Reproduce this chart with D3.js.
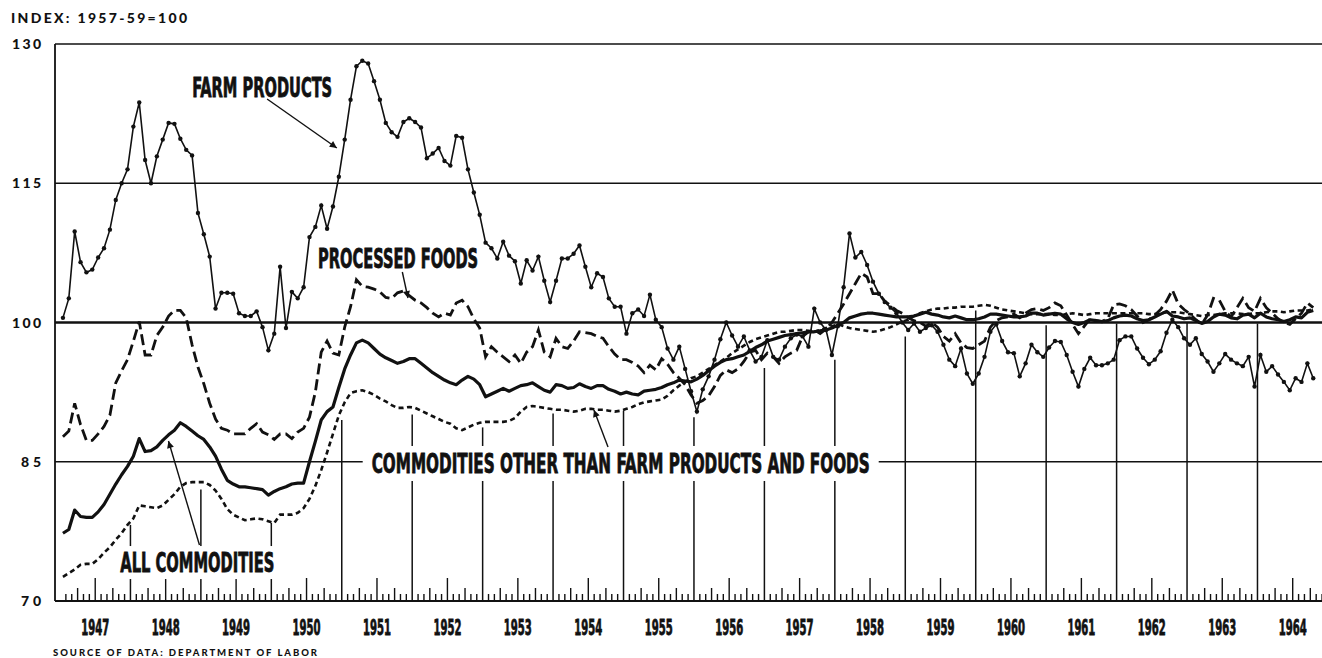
<!DOCTYPE html>
<html>
<head>
<meta charset="utf-8">
<script src="https://cdn.jsdelivr.net/npm/d3@7"></script>
<style>
  body { margin: 0; background: #fff; }
  svg { display: block; }
  .cond { font-family: "Liberation Sans Narrow", "DejaVu Sans Condensed", sans-serif; font-weight: bold; fill: #111; stroke: #111; stroke-width: 0.8; }
  .geo { font-family: Lato, "DejaVu Sans", sans-serif; font-weight: 900; fill: #111; }
</style>
</head>
<body>
<svg id="chart" width="1322" height="658"></svg>
<script>
// monthly index numbers, 1957-59=100, Jan 1947 - Oct 1964
const startYear = 1947;
const yTicks = [70, 85, 100, 115, 130];
const yearLabels = d3.range(1947, 1965);

const farmProducts = [
  100.5, 102.6, 109.8, 106.5, 105.4, 105.7, 107.0, 108.0, 110.0, 113.2, 115.0, 116.5,
  121.1, 123.7, 117.5, 115.0, 117.9, 119.7, 121.5, 121.4, 119.8, 118.6, 118.0, 111.8,
  109.5, 107.1, 101.5, 103.2, 103.2, 103.1, 101.0, 100.7, 100.7, 101.2, 99.5, 97.0,
  98.8, 106.0, 99.4, 103.3, 102.6, 103.8, 109.2, 110.3, 112.6, 110.1, 112.5, 115.7,
  119.7, 124.0, 127.6, 128.2, 127.9, 126.0, 124.0, 121.5, 120.5, 120.0, 121.6, 122.0,
  121.6, 121.0, 117.7, 118.2, 118.8, 117.4, 116.9, 120.1, 119.9, 116.5, 114.0, 111.6,
  108.6, 108.0, 106.9, 108.7, 107.2, 106.6, 104.2, 106.7, 105.6, 107.1, 104.5, 102.2,
  104.5, 106.9, 106.9, 107.4, 108.3, 106.0, 103.8, 105.3, 104.9, 102.6, 101.7, 101.7,
  98.8, 101.0, 101.4, 100.7, 103.0, 100.3, 99.5, 97.2, 96.0, 97.4, 95.0, 92.6,
  90.4, 92.8, 94.2, 96.0, 98.2, 100.0, 98.6, 97.4, 98.5, 97.0, 95.8, 96.3,
  98.1, 96.3, 96.0, 97.4, 98.3, 98.7, 98.5, 97.4, 101.5, 100.0, 99.2, 96.5,
  99.6, 103.8, 109.6, 107.0, 107.6, 106.2, 104.4, 103.1, 102.2, 101.6, 101.0, 100.0,
  99.2, 99.9, 99.0, 99.4, 99.7, 99.0, 97.6, 96.0, 95.3, 97.2, 94.5, 93.4,
  94.5, 96.3, 99.0, 99.8, 98.0, 96.8, 96.7, 94.2, 95.6, 97.6, 96.8, 96.3,
  97.3, 98.0, 97.9, 96.5, 94.7, 93.1, 95.0, 96.2, 95.4, 95.4, 95.6, 96.0,
  98.1, 98.5, 98.5, 97.2, 96.2, 95.5, 96.0, 96.9, 98.9, 100.3, 99.5, 98.3,
  97.6, 98.3, 96.6, 95.8, 94.7, 95.6, 96.6, 96.0, 95.6, 95.3, 96.3, 93.1,
  96.5, 94.7, 95.3, 94.4, 93.6, 92.7, 94.0, 93.6, 95.6, 94.0
];

const processedFoods = [
  87.7, 88.3, 91.3, 89.0, 87.3, 87.3, 88.0, 88.8, 90.0, 93.5, 94.8, 96.0,
  98.0, 100.1, 96.5, 96.5, 98.6, 99.5, 100.7, 101.3, 101.3, 100.5, 97.6, 95.2,
  93.4, 91.3, 89.6, 88.6, 88.4, 88.0, 88.0, 88.0, 88.6, 89.1, 88.2, 87.9,
  87.4, 88.0, 88.0, 87.5, 88.2, 88.6, 89.8, 92.5, 96.8, 98.0, 96.7, 96.5,
  99.5, 101.7, 104.6, 103.9, 103.8, 103.6, 103.3, 102.7, 102.6, 103.2, 103.4, 102.9,
  102.4, 102.1, 101.6, 101.0, 100.6, 101.0, 100.8, 102.1, 102.4, 101.7, 100.4, 99.4,
  96.3, 97.4, 96.8, 96.3, 95.8, 96.5, 95.6, 96.8, 97.4, 99.2, 96.8, 96.3,
  98.3, 97.4, 97.2, 98.0, 99.0, 98.9, 98.8, 98.5, 98.3, 97.4, 96.6, 96.0,
  96.0, 95.7, 95.3, 94.6, 95.4, 94.9, 96.1, 95.5, 94.6, 94.0, 93.3, 92.2,
  91.3, 91.6, 92.1, 93.1, 94.3, 94.9, 94.6, 95.0, 95.8, 96.8, 97.0, 96.0,
  96.7, 96.3, 95.6, 96.3, 96.7, 97.0, 98.5, 99.0, 99.2, 98.8, 99.3, 100.0,
  101.0, 102.0, 103.1, 104.2, 105.3, 104.9, 103.1, 103.1, 102.3, 101.8, 101.3, 101.0,
  100.5, 100.2, 100.0, 99.6, 100.0, 99.5, 98.5, 98.0, 98.8, 97.8, 97.3, 97.2,
  97.6, 98.0, 99.5, 100.2, 100.5, 100.6, 100.9, 100.5, 101.0, 101.4, 101.5, 101.3,
  101.6, 102.1, 101.8, 100.8, 99.8, 98.8, 99.6, 100.4, 100.2, 100.1, 100.4, 101.9,
  102.0, 101.8, 101.4, 100.7, 100.0, 100.3, 100.8, 101.4, 102.3, 103.5, 102.0, 101.4,
  100.9, 100.3, 99.8, 100.8, 102.6, 102.4, 101.2, 100.6, 101.6, 102.6, 101.6, 101.2,
  102.6, 101.6, 101.0, 100.4, 100.0, 99.8, 100.4, 101.0, 102.1, 101.6
];

const allCommodities = [
  77.3, 77.7, 79.8, 79.1, 79.0, 79.0, 79.6, 80.4, 81.5, 82.6, 83.6, 84.5,
  85.6, 87.5, 86.1, 86.2, 86.6, 87.3, 87.9, 88.4, 89.2, 88.8, 88.3, 87.8,
  87.4, 86.6, 85.6, 84.2, 83.0, 82.6, 82.3, 82.3, 82.2, 82.1, 82.0, 81.4,
  81.8, 82.1, 82.3, 82.6, 82.7, 82.7, 85.0, 87.2, 89.5, 90.4, 90.9, 93.0,
  95.0, 96.5, 97.8, 98.1, 97.8, 97.2, 96.6, 96.2, 95.9, 95.6, 95.8, 96.1,
  96.1, 95.6, 95.1, 94.6, 94.2, 93.8, 93.5, 93.3, 93.8, 94.2, 93.9, 93.3,
  92.0, 92.3, 92.6, 92.9, 92.6, 92.9, 93.2, 93.3, 93.5, 93.1, 92.7, 92.5,
  93.3, 93.2, 92.9, 93.0, 93.4, 93.1, 92.9, 93.2, 93.2, 92.8, 92.6, 92.3,
  92.5, 92.3, 92.2, 92.6, 92.7, 92.8, 93.0, 93.3, 93.5, 93.8, 93.7, 93.6,
  93.9, 94.3, 94.8, 95.3, 95.7, 96.0, 96.1, 96.3, 96.5, 96.9, 97.3, 97.6,
  98.0, 98.2, 98.4, 98.6, 98.7, 98.8, 98.9, 99.0, 99.0, 99.1, 99.2, 99.4,
  99.7, 100.0, 100.5, 100.7, 100.9, 101.0, 101.0, 100.9, 100.8, 100.7, 100.6, 100.6,
  100.6, 100.7, 100.9, 101.1, 100.9, 100.8, 100.6, 100.5, 100.7, 100.5, 100.3, 100.3,
  100.4, 100.6, 100.9, 100.9, 100.8, 100.7, 100.6, 100.6, 100.7, 101.0, 101.0, 100.8,
  100.9, 101.0, 100.9, 100.4, 100.0, 99.8, 100.0, 100.3, 100.2, 100.1, 100.2, 100.5,
  100.7, 100.8, 100.7, 100.4, 100.2, 100.3, 100.6, 100.9, 101.2, 100.7, 100.6, 100.4,
  100.5, 100.2, 99.9, 100.1, 100.6, 100.9, 100.8, 100.5, 100.4, 100.8, 100.9, 100.5,
  101.0, 100.6, 100.4, 100.3, 100.1, 100.3, 100.6, 100.5, 101.1, 101.3
];

const otherCommodities = [
  72.6, 73.0, 73.4, 73.9, 74.0, 74.0, 74.5, 75.2, 75.8, 76.6, 77.3, 78.2,
  78.9, 80.3, 80.2, 80.1, 80.0, 80.3, 80.9, 81.5, 82.3, 82.7, 82.8, 82.8,
  82.8, 82.5, 81.9, 81.0, 79.9, 79.3, 79.0, 78.7, 78.8, 78.9, 78.8, 78.6,
  78.4, 79.3, 79.3, 79.3, 79.5, 80.0, 81.0, 82.4, 84.1, 86.0, 88.0, 90.0,
  91.4, 92.4, 92.6, 92.7, 92.5, 92.2, 91.8, 91.5, 91.1, 90.8, 90.8, 90.9,
  90.8, 90.5, 90.2, 89.9, 89.6, 89.3, 89.1, 88.6, 88.4, 88.7, 89.0, 89.2,
  89.3, 89.3, 89.3, 89.3, 89.4, 89.7, 90.4, 90.9, 91.0, 90.9, 90.8, 90.7,
  90.6, 90.6, 90.5, 90.4, 90.5, 90.7, 90.7, 90.6, 90.6, 90.5, 90.4, 90.5,
  90.7, 90.9, 91.2, 91.4, 91.5, 91.6, 91.7, 92.1, 92.7, 93.2, 93.6, 94.0,
  94.2, 94.6, 95.0, 95.4, 95.8, 96.2, 96.7, 97.1, 97.5, 97.9, 98.2, 98.4,
  98.6, 98.8, 99.0, 99.0, 99.1, 99.2, 99.2, 99.1, 99.0, 99.2, 99.4, 99.6,
  99.8, 99.6, 99.4, 99.3, 99.2, 99.1, 99.0, 99.1, 99.3, 99.5, 99.8, 100.1,
  100.3, 100.7, 101.0, 101.2, 101.4, 101.5, 101.5, 101.6, 101.6, 101.7, 101.7, 101.7,
  101.8, 101.9, 101.8, 101.6, 101.4, 101.3, 101.2, 101.1, 101.0, 100.9, 100.9, 100.9,
  100.9, 100.8, 100.8, 100.9, 101.0, 100.9, 100.8, 100.9, 101.0, 101.0, 101.0, 101.0,
  101.0, 101.0, 101.0, 101.0, 101.0, 100.9, 100.9, 101.0, 101.1, 101.1, 101.1, 101.0,
  100.9, 100.8, 100.7, 100.8, 100.8, 100.9, 101.0, 101.0, 101.0, 100.9, 100.9, 101.0,
  101.0, 101.1, 101.2, 101.2, 101.1, 101.2, 101.3, 101.3, 101.3, 101.4
];

// index level at which each January rule starts, 1948 - 1964
const yearRuleYears = d3.range(1948, 1965);
const yearRuleTops = [78.2, 82.0, 78.4, 89.5, 90.1, 88.7, 90.2, 90.5, 89.8, 95.1, 96.0, 98.5, 101.3, 99.7, 99.9, 100.0, 99.9];

// series labels: position in (year, index) of the baseline centre, width, arrow from/to
const labels = [
  { text: "FARM PRODUCTS", x: 1949.87, y: 124.29, w: 140, arrow: [1949.94, 124.08, 1950.93, 118.80] },
  { text: "PROCESSED FOODS", x: 1951.80, y: 105.87, w: 160, arrow: [1951.86, 105.44, 1951.94, 102.64] },
  { text: "COMMODITIES OTHER THAN FARM PRODUCTS AND FOODS", x: 1954.96, y: 83.79, w: 498, knock: [9, 8], arrow: [1954.78, 86.59, 1954.58, 90.57] },
  { text: "ALL COMMODITIES", x: 1948.95, y: 73.12, w: 154, knock: [3, 7], arrow: [1948.98, 76.03, 1948.54, 87.23] }
];

const svg = d3.select("#chart");
const W = 1322, H = 658;

const x = d3.scaleLinear().domain([startYear, 1965]).range([60, 60 + 18 * 70.44]);
const y = d3.scaleLinear().domain([70, 130]).range([601, 44]);
const frameX = x(startYear) - 5;

const months = d3.range(farmProducts.length).map(i => startYear + (i + 0.5) / 12);

svg.append("defs").append("marker")
  .attr("id", "arrow")
  .attr("viewBox", "0 0 10 10")
  .attr("refX", 10).attr("refY", 5)
  .attr("markerWidth", 9).attr("markerHeight", 7)
  .attr("markerUnits", "userSpaceOnUse")
  .attr("orient", "auto")
  .append("path").attr("d", "M0,0 L10,5 L0,10 z").attr("fill", "#111");

// horizontal rules
svg.append("g").selectAll("line")
  .data(yTicks)
  .enter().append("line")
  .attr("x1", frameX).attr("x2", W)
  .attr("y1", d => y(d)).attr("y2", d => y(d))
  .attr("stroke", "#111")
  .attr("stroke-width", d => d === 100 ? 2.6 : (d === 70 ? 2 : 1.4));

// left frame
svg.append("line")
  .attr("x1", frameX).attr("x2", frameX)
  .attr("y1", y(130)).attr("y2", y(70))
  .attr("stroke", "#111").attr("stroke-width", 1.8);

// y labels
svg.append("g").selectAll("text")
  .data(yTicks)
  .enter().append("text")
  .attr("class", "geo")
  .attr("x", 41).attr("y", d => y(d) + 5)
  .attr("text-anchor", "end")
  .attr("font-size", 14)
  .attr("textLength", d => String(d).length === 3 ? 29 : 20)
  .text(d => d);

// month ticks along the bottom
const tickMonths = d3.range(1, 18 * 12).filter(i => i % 12 !== 0);
svg.append("g").selectAll("line")
  .data(tickMonths)
  .enter().append("line")
  .attr("x1", i => x(startYear + i / 12)).attr("x2", i => x(startYear + i / 12))
  .attr("y1", y(70))
  .attr("y2", i => y(70) - (i % 12 === 6 ? 23 : (i % 3 === 0 ? 13 : 7)))
  .attr("stroke", "#111").attr("stroke-width", 1.4);

// January rules
svg.append("g").selectAll("line")
  .data(yearRuleYears)
  .enter().append("line")
  .attr("x1", d => x(d)).attr("x2", d => x(d))
  .attr("y1", (d, i) => y(yearRuleTops[i])).attr("y2", y(70))
  .attr("stroke", "#111").attr("stroke-width", 1.5);

// year labels
svg.append("g").selectAll("text")
  .data(yearLabels)
  .enter().append("text")
  .attr("class", "cond")
  .attr("x", d => x(d + 0.5)).attr("y", 635)
  .attr("text-anchor", "middle")
  .attr("font-size", 21)
  .attr("textLength", 28).attr("lengthAdjust", "spacingAndGlyphs")
  .text(d => d);

// series
const line = d3.line().x((d, i) => x(months[i])).y(d => y(d));

svg.append("path").datum(otherCommodities)
  .attr("d", line).attr("fill", "none")
  .attr("stroke", "#111").attr("stroke-width", 2.6)
  .attr("stroke-dasharray", "5,3.5");

svg.append("path").datum(processedFoods)
  .attr("d", line).attr("fill", "none")
  .attr("stroke", "#111").attr("stroke-width", 2.8)
  .attr("stroke-dasharray", "11,5");

svg.append("path").datum(allCommodities)
  .attr("d", line).attr("fill", "none")
  .attr("stroke", "#111").attr("stroke-width", 3.2)
  .attr("stroke-linejoin", "round");

svg.append("path").datum(farmProducts)
  .attr("d", line).attr("fill", "none")
  .attr("stroke", "#111").attr("stroke-width", 1.6);

svg.append("g").selectAll("circle")
  .data(farmProducts)
  .enter().append("circle")
  .attr("cx", (d, i) => x(months[i])).attr("cy", d => y(d))
  .attr("r", 2.2)
  .attr("fill", "#111");

// series labels, with white knock-outs where they sit on rules
const lab = svg.append("g");
labels.forEach(l => {
  lab.append("text")
    .attr("class", "cond")
    .attr("x", x(l.x)).attr("y", y(l.y))
    .attr("text-anchor", "middle")
    .attr("font-size", 26)
    .attr("textLength", l.w).attr("lengthAdjust", "spacingAndGlyphs")
    .text(l.text);
  if (l.knock) {
    const capTop = y(l.y) - 19;
    lab.insert("rect", "text")
      .attr("x", x(l.x) - l.w / 2 - l.knock[0])
      .attr("y", capTop - l.knock[1])
      .attr("width", l.w + 2 * l.knock[0])
      .attr("height", 19 + 2 * l.knock[1])
      .attr("fill", "#fff");
  }
  const a = l.arrow;
  lab.append("line")
    .attr("x1", x(a[0])).attr("y1", y(a[1]))
    .attr("x2", x(a[2])).attr("y2", y(a[3]))
    .attr("stroke", "#111").attr("stroke-width", 1.4)
    .attr("marker-end", "url(#arrow)");
});

// header and source
svg.append("text")
  .attr("class", "geo")
  .attr("x", 11).attr("y", 23)
  .attr("font-size", 14)
  .attr("textLength", 176)
  .text("INDEX: 1957-59=100");

svg.append("text")
  .attr("class", "geo")
  .attr("x", 53).attr("y", 656)
  .attr("font-size", 9.5)
  .attr("textLength", 264)
  .text("SOURCE OF DATA: DEPARTMENT OF LABOR");
</script>
</body>
</html>
